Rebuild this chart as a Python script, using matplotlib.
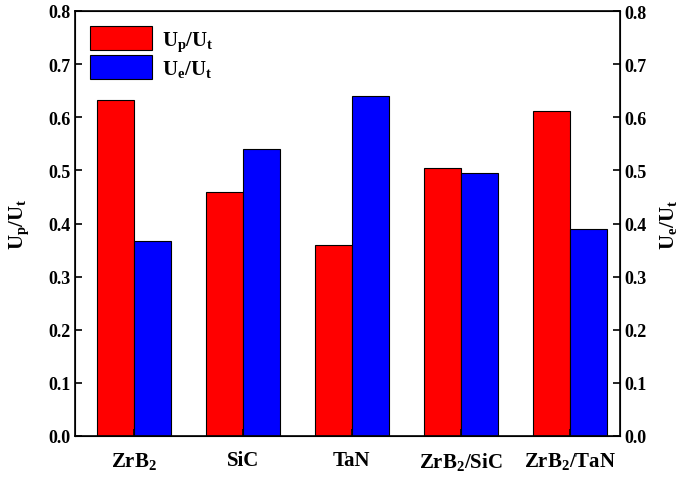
import matplotlib
matplotlib.use("Agg")
import matplotlib.pyplot as plt
import numpy as np

categories = ["ZrB$_\\mathbf{2}$", "SiC", "TaN", "ZrB$_\\mathbf{2}$/SiC", "ZrB$_\\mathbf{2}$/TaN"]
up_ut = [0.632, 0.460, 0.360, 0.504, 0.611]
ue_ut = [0.368, 0.540, 0.640, 0.496, 0.389]

plt.rcParams["font.family"] = "Liberation Serif"
plt.rcParams["font.weight"] = "bold"
plt.rcParams["mathtext.fontset"] = "custom"
plt.rcParams["mathtext.rm"] = "Liberation Serif:bold"
plt.rcParams["mathtext.bf"] = "Liberation Serif:bold"
plt.rcParams["mathtext.it"] = "Liberation Serif:bold"

fig = plt.figure(figsize=(6.85, 4.81), dpi=100)
ax = fig.add_axes([75/685, 1-437/481, 545/685, 425/481])
x = np.arange(len(categories))
w = 0.34
ax.bar(x - w/2, up_ut, w, color="#ff0000", edgecolor="black", linewidth=0.8, label="U$_\\mathrm{p}$/U$_\\mathrm{t}$")
ax.bar(x + w/2, ue_ut, w, color="#0000ff", edgecolor="black", linewidth=0.8, label="U$_\\mathrm{e}$/U$_\\mathrm{t}$")
ax.set_xlim(-0.54, 4.46)
ax.set_ylim(0, 0.8)
ax.set_xticks(x)
ax.set_xticklabels(categories, fontsize=15, fontweight="bold")
yt = np.round(np.arange(0, 0.81, 0.1), 1)
ax.set_yticks(yt)
ax.set_yticklabels([f"{v:.1f}" for v in yt], fontsize=13)
ax.tick_params(direction="in", length=5, width=1.2)
ax.tick_params(axis="x", pad=10)
ax.set_ylabel("U$_\\mathrm{p}$/U$_\\mathrm{t}$", fontsize=15, fontweight="bold", labelpad=12)
for s in ax.spines.values():
    s.set_linewidth(1.2)
ax2 = ax.twinx()
ax2.set_ylim(0, 0.8)
ax2.set_yticks(yt)
ax2.set_yticklabels([f"{v:.1f}" for v in yt], fontsize=13)
ax2.tick_params(direction="in", length=5, width=1.2)
ax2.set_ylabel("U$_\\mathrm{e}$/U$_\\mathrm{t}$", fontsize=15, fontweight="bold", labelpad=8)
leg = ax.legend(loc="upper left", fontsize=15, frameon=False, handlelength=3.0, handleheight=1.4,
                borderaxespad=0.3, labelspacing=0.1, handletextpad=0.5)
fig.savefig("out.png", dpi=100)
